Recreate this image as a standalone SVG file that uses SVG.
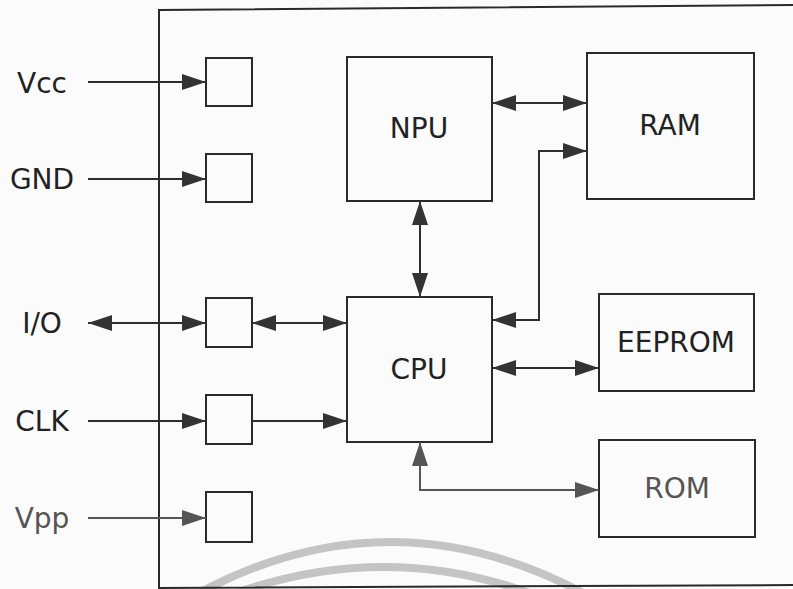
<svg xmlns="http://www.w3.org/2000/svg" width="793" height="589" viewBox="0 0 793 589">
<style>
.box{fill:none;stroke:#2a2a2a;stroke-width:2}
.ln{fill:none;stroke:#2e2e2e;stroke-width:2}
.lnf{fill:none;stroke:#555;stroke-width:2}
.lbl{font-family:"DejaVu Sans",Verdana,sans-serif;font-size:28px;fill:#222;text-anchor:middle}
.wm{fill:none;stroke:#c4c4c4;stroke-width:8}
</style>
<defs>
<marker id="ah" markerUnits="userSpaceOnUse" markerWidth="24" markerHeight="16" refX="24" refY="8" orient="auto-start-reverse">
<path d="M0,0 L24,8 L0,16 z" fill="#333"/>
</marker>
<marker id="ahf" markerUnits="userSpaceOnUse" markerWidth="24" markerHeight="16" refX="24" refY="8" orient="auto-start-reverse">
<path d="M0,0 L24,8 L0,16 z" fill="#555"/>
</marker>
</defs>
<rect width="793" height="589" fill="#fbfbfb"/>
<g id="watermark">
<path class="wm" d="M197,594 Q390,490 585,594"/>
<path class="wm" d="M233,594 Q385,540 532,594"/>
</g>
<g id="chip">
<path class="box" d="M793,5 L159,10 L159,589 M159,588 L793,585"/>
</g>
<g id="labels">
<text class="lbl" x="42" y="93">Vcc</text>
<text class="lbl" x="42" y="189">GND</text>
<text class="lbl" x="42" y="333">I/O</text>
<text class="lbl" x="42" y="431">CLK</text>
<text class="lbl" x="42" y="528" style="fill:#555">Vpp</text>
</g>
<g id="pin-vcc"><rect class="box" x="206" y="58" width="46" height="48"/></g>
<g id="pin-gnd"><rect class="box" x="206" y="154" width="46" height="48"/></g>
<g id="pin-io"><rect class="box" x="206" y="298" width="46" height="49"/></g>
<g id="pin-clk"><rect class="box" x="206" y="395" width="46" height="49"/></g>
<g id="pin-vpp"><rect class="box" x="206" y="492" width="46" height="50"/></g>
<g id="npu"><rect class="box" x="347" y="57" width="145" height="144"/><text class="lbl" x="419" y="138">NPU</text></g>
<g id="ram"><rect class="box" x="587" y="53" width="167" height="146"/><text class="lbl" x="670" y="135">RAM</text></g>
<g id="cpu"><rect class="box" x="347" y="297" width="145" height="145"/><text class="lbl" x="419" y="379">CPU</text></g>
<g id="eeprom"><rect class="box" x="599" y="294" width="155" height="97"/><text class="lbl" x="676" y="352">EEPROM</text></g>
<g id="rom"><rect class="box" x="599" y="440" width="156" height="97"/><text class="lbl" x="677" y="498" style="fill:#555">ROM</text></g>
<g id="connectors">
<path class="ln" d="M88,82 L206,82" marker-end="url(#ah)"/>
<path class="ln" d="M88,179 L206,179" marker-end="url(#ah)"/>
<path class="ln" d="M88,323 L206,323" marker-start="url(#ah)" marker-end="url(#ah)"/>
<path class="ln" d="M252,323 L347,323" marker-start="url(#ah)" marker-end="url(#ah)"/>
<path class="ln" d="M88,421 L206,421" marker-end="url(#ah)"/>
<path class="ln" d="M252,421 L347,421" marker-end="url(#ah)"/>
<path class="lnf" d="M88,518 L206,518" marker-end="url(#ahf)"/>
<path class="ln" d="M492,103 L587,103" marker-start="url(#ah)" marker-end="url(#ah)"/>
<path class="ln" d="M492,320 L539,320 L539,151 L587,151" marker-start="url(#ah)" marker-end="url(#ah)"/>
<path class="ln" d="M420,201 L420,297" marker-start="url(#ah)" marker-end="url(#ah)"/>
<path class="ln" d="M492,368 L599,368" marker-start="url(#ah)" marker-end="url(#ah)"/>
<path class="lnf" d="M420,442 L420,490 L599,490" marker-start="url(#ahf)" marker-end="url(#ahf)"/>
</g>
</svg>
